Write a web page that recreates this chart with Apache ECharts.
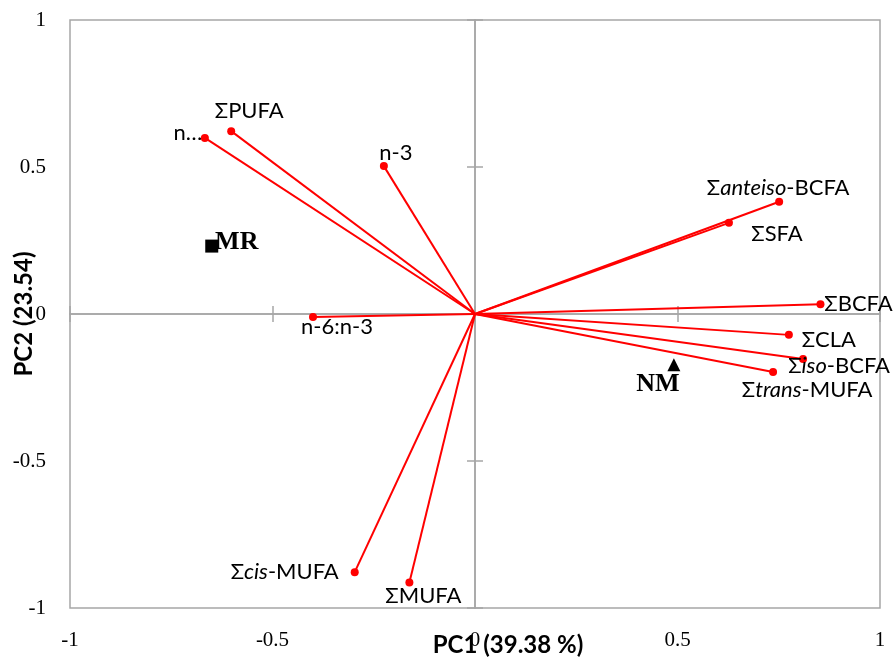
<!DOCTYPE html>
<html>
<head>
<meta charset="utf-8">
<script src="https://cdn.jsdelivr.net/npm/echarts@6/dist/echarts.min.js"></script>
<style>html,body{margin:0;padding:0;background:#fff}#c{width:895px;height:659px}</style>
</head>
<body>
<div id="c"></div>
<script>
// ---- data ----
const variables = ['ΣPUFA', 'n-6', 'n-3', 'n-6:n-3', 'Σanteiso-BCFA', 'ΣSFA', 'ΣBCFA', 'ΣCLA', 'Σiso-BCFA', 'Σtrans-MUFA', 'Σcis-MUFA', 'ΣMUFA'];
const variableLabels = ['{n|ΣPUFA}', '{n|n…}', '{n|n-3}', '{n|n-6:n-3}', '{n|Σ}{i|anteiso}{n|-BCFA}', '{n|ΣSFA}', '{n|ΣBCFA}', '{n|ΣCLA}', '{n|Σ}{i|iso}{n|-BCFA}', '{n|Σ}{i|trans}{n|-MUFA}', '{n|Σ}{i|cis}{n|-MUFA}', '{n|ΣMUFA}'];
const pc1Loadings = [-0.602, -0.667, -0.225, -0.400, 0.751, 0.627, 0.853, 0.775, 0.810, 0.736, -0.297, -0.162];
const pc2Loadings = [0.622, 0.599, 0.503, -0.010, 0.382, 0.310, 0.033, -0.071, -0.153, -0.197, -0.878, -0.913];
const samples = ['MR', 'NM'];
const samplePC1 = [-0.650, 0.491];
const samplePC2 = [0.231, -0.173];
const xTickLabels = ['-1', '-0.5', '0', '0.5', '1'];
const yTickLabels = ['-1', '-0.5', '0', '0.5', '1'];
const xTitle = 'PC1 (39.38 %)';
const yTitle = 'PC2 (23.54)';

// ---- styling (label offsets, pixels relative to marker) ----
const labelOffsets = [[18,-20],[-17,-5],[12,-13],[24,10],[-1,-14],[48,11],[38,0],[40,5],[36,7],[34,18],[-70,0],[14,13]];
const sampleSymbols = ['rect', 'triangle'];
const sampleLabelOffsets = [[25,-4],[-16,19]];

const gray = '#a6a6a6';
const sansFont = 'Lato, "Noto Sans", sans-serif';
const serifFont = '"Liberation Serif", serif';
const tickFmt = arr => v => arr[Math.round((v + 1) / 0.5)];

function zeroAxis(inside, isX) {
  return {
    type: 'value', min: -1, max: 1, interval: 0.5,
    position: isX ? 'bottom' : 'left',
    axisLine: { show: true, onZero: true, onZeroAxisIndex: 0, lineStyle: { color: gray, width: 1.5 } },
    axisTick: { show: true, inside: inside, length: 8, lineStyle: { color: gray, width: 1.5 } },
    axisLabel: { show: false },
    splitLine: { show: false }
  };
}

const chart = echarts.init(document.getElementById('c'), null, { renderer: 'canvas' });
const option = {
  animation: false,
  grid: { left: 70, right: 15, top: 20, bottom: 51, containLabel: false, outerBoundsMode: 'none',
    show: true, borderColor: gray, borderWidth: 1.5, backgroundColor: 'transparent' },
  xAxis: [
    {
      type: 'value', min: -1, max: 1, interval: 0.5, position: 'bottom',
      axisLine: { show: false, onZero: false }, axisTick: { show: false }, splitLine: { show: false },
      axisLabel: { margin: 22, fontFamily: serifFont, fontSize: 21, color: '#000', formatter: tickFmt(xTickLabels) },
      name: xTitle, nameLocation: 'middle', nameGap: 25, nameMoveOverlap: false,
      nameTextStyle: { fontFamily: sansFont, fontWeight: 'bold', fontSize: 24, color: '#000', padding: [0, 0, 0, 66] }
    },
    zeroAxis(false, true),
    zeroAxis(true, true)
  ],
  yAxis: [
    {
      type: 'value', min: -1, max: 1, interval: 0.5, position: 'left',
      axisLine: { show: false, onZero: false }, axisTick: { show: false }, splitLine: { show: false },
      axisLabel: { margin: 24, fontFamily: serifFont, fontSize: 21, color: '#000', formatter: tickFmt(yTickLabels) },
      name: yTitle, nameLocation: 'middle', nameGap: 34, nameMoveOverlap: false,
      nameTextStyle: { fontFamily: sansFont, fontWeight: 'bold', fontSize: 24, color: '#000' }
    },
    zeroAxis(false, false),
    zeroAxis(true, false)
  ],
  series: [
    {
      type: 'lines', coordinateSystem: 'cartesian2d', xAxisIndex: 0, yAxisIndex: 0, silent: true, z: 2,
      lineStyle: { color: '#ff0000', width: 2, opacity: 1, curveness: 0 },
      data: variables.map((v, i) => ({ name: v, coords: [[0, 0], [pc1Loadings[i], pc2Loadings[i]]] }))
    },
    {
      type: 'scatter', xAxisIndex: 0, yAxisIndex: 0, z: 3, symbol: 'circle', symbolSize: 8,
      itemStyle: { color: '#ff0000', opacity: 1 },
      data: variables.map((v, i) => ({
        name: v, value: [pc1Loadings[i], pc2Loadings[i]],
        label: { show: true, position: 'inside', offset: labelOffsets[i], formatter: variableLabels[i],
          rich: {
            n: { fontFamily: sansFont, fontSize: 22, color: '#000' },
            i: { fontFamily: sansFont, fontSize: 22, color: '#000', fontStyle: 'italic' }
          } }
      }))
    },
    {
      type: 'scatter', xAxisIndex: 0, yAxisIndex: 0, z: 4, symbolSize: 13,
      itemStyle: { color: '#000', opacity: 1 },
      data: samples.map((s, i) => ({
        name: s, value: [samplePC1[i], samplePC2[i]], symbol: sampleSymbols[i],
        label: { show: true, position: 'inside', offset: sampleLabelOffsets[i], formatter: s,
          fontFamily: serifFont, fontWeight: 'bold', fontSize: 26, color: '#000' }
      }))
    }
  ]
};
chart.setOption(option);
</script>
</body>
</html>
